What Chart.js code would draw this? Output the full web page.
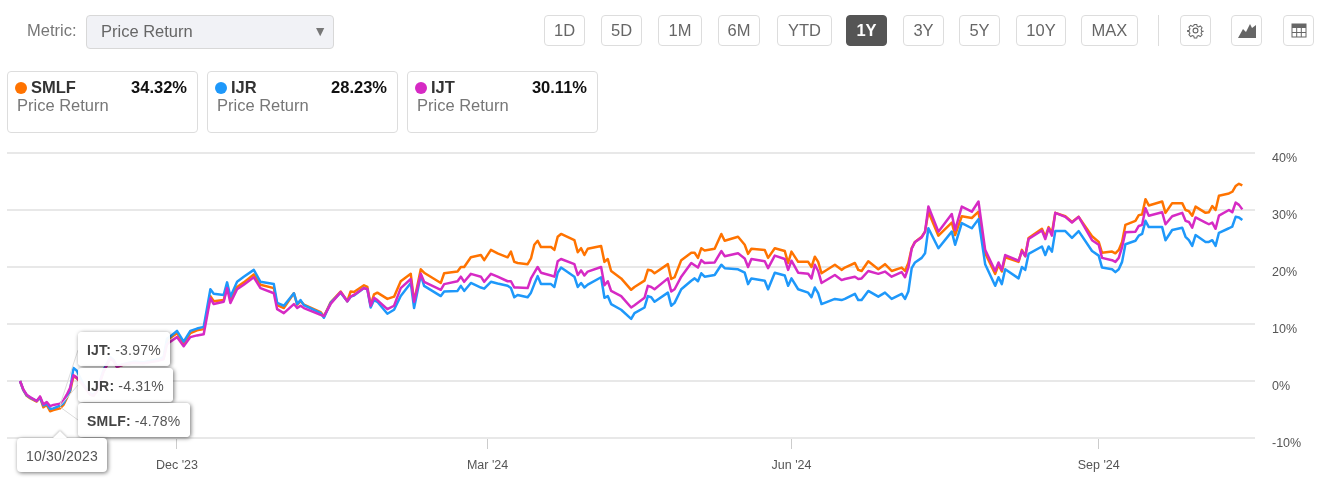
<!DOCTYPE html>
<html>
<head>
<meta charset="utf-8">
<title>Price Return</title>
<script src="https://cdn.jsdelivr.net/npm/chart.js@4/dist/chart.umd.min.js"></script>
<style>
  html, body { margin: 0; padding: 0; background: #fff; }
  body { width: 1324px; height: 493px; position: relative; overflow: hidden; font-family: "Liberation Sans", Arial, sans-serif; }
  #priceChart { position: absolute; left: 0; top: 0; }
  .abs { position: absolute; box-sizing: border-box; }
  .metric { left: 27px; top: 21px; font-size: 16.5px; color: #777; }
  .select { left: 86px; top: 15px; width: 248px; height: 34px; background: #f1f2f6; border: 1px solid #d8d8d8; border-radius: 4px; font-size: 16.5px; color: #666; padding: 6px 0 0 14px; }
  .select span { position: absolute; right: 6px; top: 7px; font-size: 14px; color: #777; }
  .btn { top: 15px; height: 31px; border: 1px solid #ddd; border-radius: 4px; background: #fff; color: #666; font-size: 16.5px; text-align: center; line-height: 29px; }
  .btn.on { background: #555; border-color: #555; color: #fff; font-weight: bold; }
  .btn svg { display: block; margin: 6px auto 0; }
  .sep { left: 1158px; top: 15px; width: 1px; height: 31px; background: #ddd; }
  .card { top: 71px; width: 191px; height: 62px; border: 1px solid #ddd; border-radius: 4px; }
  .dot { left: 7px; top: 10px; width: 12px; height: 12px; border-radius: 50%; }
  .name { left: 23px; top: 6px; font-size: 16.5px; font-weight: bold; color: #333; }
  .val { right: 10px; top: 6px; font-size: 16.5px; font-weight: bold; color: #111; }
  .sub { left: 9px; top: 24px; font-size: 16.5px; color: #777; }
  .tip { left: 78px; height: 34px; background: rgba(255,255,255,.95); border-radius: 4px; box-shadow: 1px 1px 4px rgba(0,0,0,.55); font-size: 14px; letter-spacing: .2px; color: #555; line-height: 37px; padding-left: 9px; white-space: nowrap; }
  .tip b { color: #444; }
  .dateTip { left: 17px; top: 438px; width: 90px; height: 34px; background: #fff; border-radius: 4px; box-shadow: 1px 1px 4px rgba(0,0,0,.55); font-size: 14px; letter-spacing: .2px; color: #555; line-height: 37px; text-align: center; }
  .arrow { left: 53px; top: 431px; width: 0; height: 0; border-left: 7px solid transparent; border-right: 7px solid transparent; border-bottom: 7px solid #fff; filter: drop-shadow(0 -1px 1px rgba(0,0,0,.25)); }
</style>
</head>
<body>
<canvas id="priceChart" width="1324" height="493"></canvas>

<div class="abs metric">Metric:</div>
<div class="abs select">Price Return<span>▼</span></div>
<div id="header"></div>
<div class="abs sep"></div>
<div class="abs btn" style="left:1180px;width:31px">
  <svg width="17" height="17" viewBox="0 0 24 24" fill="none" stroke="#666" stroke-width="1.6"><circle cx="12" cy="12" r="3.4"/><path d="M10 2.5h4l.6 3 2.3 1 2.6-1.6 2.8 2.8-1.6 2.6 1 2.3 3 .6v0l-3 .6-1 2.3 1.6 2.6-2.8 2.8-2.6-1.6-2.3 1-.6 3h-4l-.6-3-2.3-1-2.6 1.6-2.8-2.8 1.6-2.6-1-2.3-3-.6v-1l3-.6 1-2.3-1.6-2.6 2.8-2.8 2.6 1.6 2.3-1z" transform="translate(1.2 1.2) scale(.9)"/></svg>
</div>
<div class="abs btn" style="left:1231px;width:31px">
  <svg width="20" height="17" viewBox="0 0 20 17"><path d="M1 16 L6 7 L9 10 L13 2 L15 6 L19 3 L19 16 Z" fill="#666"/></svg>
</div>
<div class="abs btn" style="left:1283px;width:31px">
  <svg width="16" height="17" viewBox="0 0 16 17"><rect x="1" y="2" width="14" height="13" fill="none" stroke="#666" stroke-width="1"/><rect x="1" y="2" width="14" height="4" fill="#666"/><path d="M1 10.5H15M5.7 6V15M10.3 6V15" stroke="#666" stroke-width="1"/></svg>
</div>
<div id="cards"></div>

<svg class="abs" style="left:0;top:0" width="1324" height="493">
  <path d="M60 405L78 350M60 406L78 385M60 407L78 420" stroke="#dcdcdc" stroke-width="1" fill="none"/>
</svg>
<div class="abs tip" style="top:332px;width:92px"><b>IJT:</b> -3.97%</div>
<div class="abs tip" style="top:368px;width:95px"><b>IJR:</b> -4.31%</div>
<div class="abs tip" style="top:403px;width:112px"><b>SMLF:</b> -4.78%</div>
<div class="abs dateTip">10/30/2023</div>
<div class="abs arrow"></div>

<script>
// days since 10/18/2023
const days = [
  0,1,2,3,5,6,7,8,9,10,
  12,13,14,15,16,17,19,21,22,23,
  25,27,28,29,31,34,37,41,43,44,
  45,47,49,51,53,55,57,58,61,62,
  63,65,67,70,72,76,77,79,82,83,
  84,85,90,91,93,96,98,99,100,103,
  104,105,106,107,110,112,114,117,118,120,
  121,126,127,131,132,133,135,138,139,141,
  143,146,147,148,149,152,153,154,155,156,
  159,160,161,162,166,167,168,169,170,174,
  175,176,177,180,183,184,187,188,189,190,
  194,195,196,198,201,202,203,204,205,208,
  210,211,215,217,218,219,223,224,226,229,
  230,231,233,236,237,238,239,240,244,246,
  247,250,251,252,254,257,259,261,264,265,
  266,267,268,270,271,272,275,279,280,282,
  285,287,289,292,293,294,295,299,300,301,
  302,306,307,308,309,310,313,315,317,321,
  323,324,327,328,329,330,331,334,335,336,
  337,338,342,343,345,348,349,350,351,352,
  355,356,357,358,359,362,363,364,365,366
];

const smlf = [
  0,-1.6,-2.6,-3.0,-3.6,-2.9,-4.6,-4.2,-5.3,-5.1,
  -4.78,-4.2,-3.0,-1.8,0.9,0.5,-0.8,-2.4,-2.6,-1.8,
  1.7,4.0,3.6,2.5,2.9,3.3,3.2,3.6,4.0,7.0,
  7.6,8.4,6.6,8.4,8.9,9.1,14.9,14.0,14.2,16.6,
  14.4,16.5,17.3,18.7,16.9,16.3,13.3,12.8,15.4,13.4,
  14.0,13.4,12.1,11.3,13.8,15.7,14.0,15.7,15.6,16.8,
  16.5,13.3,15.2,15.5,14.4,14.8,17.5,18.8,13.9,19.6,
  19.0,17.2,18.9,19.2,20.0,20.0,21.7,22.1,21.2,23.0,
  22.4,21.7,22.7,20.9,20.7,20.5,21.5,23.9,24.6,23.5,
  23.5,23.0,25.3,25.8,24.7,22.6,23.3,22.1,23.2,23.7,
  20.9,21.4,19.3,18.0,16.0,16.5,17.6,19.5,19.4,18.9,
  20.5,17.9,18.2,21.2,22.5,22.5,21.6,23.3,22.9,23.2,
  25.8,24.6,25.3,23.9,22.3,23.2,23.0,21.6,23.3,22.8,
  20.7,22.7,20.9,20.9,20.0,21.8,20.9,18.9,20.4,19.5,
  19.9,20.7,19.5,19.3,21.0,19.6,20.5,19.3,19.9,19.3,
  20.7,23.3,24.4,25.3,26.2,29.7,25.5,27.8,25.6,28.9,
  28.6,29.7,22.4,18.8,20.4,19.2,21.7,20.9,23.0,21.9,
  25.1,26.7,25.3,27.0,26.0,29.5,28.9,27.9,28.8,25.4,
  24.4,22.5,22.7,22.4,23.0,24.4,27.4,28.1,29.1,29.2,
  31.9,30.8,31.5,29.5,31.2,31.2,30.0,29.8,29.0,30.6,
  29.5,29.6,30.7,30.0,32.5,32.9,33.2,34.2,34.6,34.32
];

const ijr = [
  0,-1.6,-2.5,-2.9,-3.5,-2.9,-4.3,-4.0,-4.9,-4.8,
  -4.31,-3.9,-2.8,-1.6,2.3,1.8,-0.6,-2.2,-2.4,-1.6,
  1.9,4.2,3.7,2.6,3.0,3.4,3.3,3.8,4.2,7.4,
  7.8,8.8,6.9,8.8,9.2,9.5,16.1,15.3,15.1,17.3,
  14.8,17.4,18.3,19.5,17.4,17.0,13.7,13.2,15.4,13.5,
  14.2,13.3,11.9,11.1,13.7,15.5,14.0,14.8,15.0,16.3,
  16.1,12.9,14.2,13.9,11.8,12.5,14.9,17.2,12.8,18.6,
  16.7,14.9,15.7,15.8,16.7,15.8,17.2,16.4,16.2,17.4,
  17.1,16.7,16.3,14.7,15.1,14.7,15.5,17.0,18.4,17.0,
  17.0,16.5,19.0,19.9,18.3,16.5,17.2,16.4,16.9,18.2,
  14.6,14.9,13.5,12.5,10.9,11.9,12.9,14.9,14.7,13.9,
  15.5,13.2,13.7,16.1,17.6,18.0,17.5,18.9,18.3,18.6,
  20.4,19.8,19.6,19.0,17.0,18.0,17.6,16.1,19.0,18.5,
  16.7,18.0,16.1,15.5,14.7,16.4,15.4,13.5,14.4,14.2,
  14.4,15.3,14.2,14.2,15.8,14.8,15.5,14.4,15.3,14.4,
  15.7,19.8,20.8,21.6,22.4,26.8,23.3,26.2,23.9,27.7,
  26.8,28.4,20.5,16.7,18.2,17.0,19.6,18.0,20.0,19.5,
  22.3,23.6,22.1,23.6,22.7,26.3,26.3,25.1,26.3,22.8,
  22.0,19.9,19.6,19.1,19.6,20.9,24.0,24.6,25.5,25.8,
  28.1,27.0,27.0,24.7,26.5,26.9,25.3,24.7,23.7,25.6,
  24.4,24.4,24.7,23.7,26.0,26.8,27.1,28.8,28.7,28.23
];

const ijt = [
  0,-1.5,-2.4,-2.8,-3.5,-2.7,-4.1,-3.7,-4.4,-4.2,
  -3.97,-3.4,-2.4,-1.2,1.0,0.6,-0.8,-2.4,-2.6,-1.8,
  1.6,3.9,3.5,2.5,2.9,3.2,3.1,3.5,3.8,6.4,
  6.9,7.7,6.1,7.7,8.0,8.2,14.5,13.5,13.9,16.3,
  13.7,16.1,16.9,18.2,16.3,15.4,12.6,11.9,13.5,12.8,
  13.2,12.8,11.6,11.4,13.5,15.6,14.0,14.8,15.1,16.3,
  16.1,13.2,14.6,14.2,12.6,13.2,16.3,17.9,13.9,18.8,
  17.4,16.0,17.0,17.5,18.3,17.4,18.8,18.3,17.4,18.8,
  18.3,17.5,17.5,16.4,16.4,16.3,18.0,19.0,20.0,19.0,
  18.5,18.3,21.0,21.4,20.5,18.6,19.4,18.5,19.2,20.0,
  16.8,17.5,15.8,14.9,12.9,13.3,14.6,16.7,16.5,16.1,
  18.0,15.7,16.1,18.3,20.7,20.3,19.9,21.2,20.7,20.8,
  22.8,21.9,22.4,21.5,20.0,21.4,21.0,19.8,22.0,21.4,
  19.5,21.1,19.0,18.8,18.0,20.4,19.3,17.2,18.6,17.7,
  17.9,18.3,17.9,18.0,19.3,18.8,19.2,18.3,19.1,18.2,
  19.9,23.2,24.4,25.2,26.2,30.6,26.2,29.3,26.5,30.6,
  29.7,31.5,23.0,19.3,20.8,19.5,22.1,21.1,22.8,21.9,
  24.9,26.4,24.9,26.8,25.5,29.5,28.8,27.8,28.8,24.7,
  23.9,21.6,21.2,20.9,21.6,23.5,26.1,26.2,27.2,27.4,
  30.3,29.0,29.6,27.5,28.9,29.5,28.1,27.9,26.9,28.7,
  27.8,27.5,27.8,26.7,29.0,30.0,29.6,31.3,30.9,30.11
];

const tickers = ['SMLF', 'IJR', 'IJT'];
const latest = ['34.32%', '28.23%', '30.11%'];
const colors = ['#ff7300', '#1e98fa', '#d62ac4'];

const tickDays = [47, 140, 231, 323];
const tickLabels = ["Dec '23", "Mar '24", "Jun '24", "Sep '24"];

const periods = ['1D', '5D', '1M', '6M', 'YTD', '1Y', '3Y', '5Y', '10Y', 'MAX'];
const periodLeft = [544, 601, 658, 718, 777, 846, 903, 959, 1016, 1081];
const periodWidth = [41, 41, 44, 42, 55, 41, 41, 41, 50, 57];

let headerHtml = '';
periods.forEach((p, i) => {
  const on = p === '1Y' ? ' on' : '';
  headerHtml += `<div class="abs btn${on}" style="left:${periodLeft[i]}px;width:${periodWidth[i]}px">${p}</div>`;
});
document.getElementById('header').innerHTML = headerHtml;

let cardsHtml = '';
tickers.forEach((t, i) => {
  cardsHtml += `<div class="abs card" style="left:${7 + i * 200}px">
    <div class="abs dot" style="background:${colors[i]}"></div>
    <div class="abs name">${t}</div>
    <div class="abs val">${latest[i]}</div>
    <div class="abs sub">Price Return</div>
  </div>`;
});
document.getElementById('cards').innerHTML = cardsHtml;

const seriesValues = [smlf, ijr, ijt];

new Chart(document.getElementById('priceChart'), {
  type: 'line',
  data: {
    datasets: tickers.map((t, i) => ({
      label: t,
      data: days.map((d, k) => ({ x: d, y: seriesValues[i][k] })),
      borderColor: colors[i],
      borderWidth: 2.5,
      pointRadius: 0,
      tension: 0,
      borderJoinStyle: 'round',
      order: 3 - i
    }))
  },
  options: {
    responsive: false,
    animation: false,
    layout: { padding: { top: 153, left: 7, right: 0, bottom: 0 } },
    plugins: { legend: { display: false }, tooltip: { enabled: false } },
    scales: {
      x: {
        type: 'linear',
        min: -3.9,
        max: 369.8,
        afterFit: (scale) => { scale.height = 55; },
        afterBuildTicks: (scale) => { scale.ticks = tickDays.map(v => ({ value: v })); },
        grid: { drawOnChartArea: false, drawTicks: true, tickLength: 11, tickColor: '#ccc', tickWidth: 1 },
        border: { display: false },
        ticks: {
          autoSkip: false,
          maxRotation: 0,
          padding: 9,
          color: '#555',
          font: { family: '"Liberation Sans", Arial, sans-serif', size: 12.5 },
          callback: (value) => tickLabels[tickDays.indexOf(value)]
        }
      },
      y: {
        position: 'right',
        min: -10,
        max: 40,
        afterFit: (scale) => { scale.width = 69; },
        grid: { color: '#e8e8e8', lineWidth: 2, drawTicks: false },
        border: { display: false },
        ticks: {
          stepSize: 10,
          padding: 17,
          color: '#555',
          font: { family: '"Liberation Sans", Arial, sans-serif', size: 12.5, lineHeight: '12px' },
          // blank first line sits the label just under its grid line
          callback: (value) => ['', value + '%']
        }
      }
    }
  }
});
</script>
</body>
</html>
